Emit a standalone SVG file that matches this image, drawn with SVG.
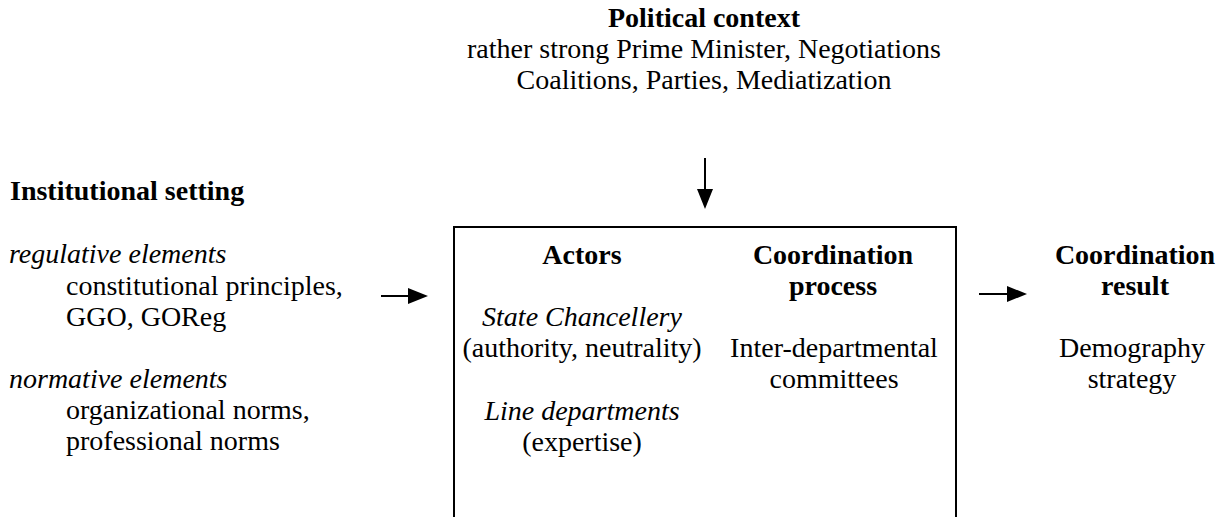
<svg xmlns="http://www.w3.org/2000/svg" width="1227" height="517" viewBox="0 0 1227 517">
  <style>
    text { font-family: "Liberation Serif", "Times New Roman", serif; font-size: 28px; fill: #000; }
    .b { font-weight: bold; }
    .i { font-style: italic; }
    .c { text-anchor: middle; }
    .conn line { stroke: #000; stroke-width: 2; }
  </style>
  <defs>
    <marker id="arrow" markerWidth="20" markerHeight="16" refX="10" refY="8" orient="auto" markerUnits="userSpaceOnUse" viewBox="0 0 20 16">
      <path d="M0,0 L20,8 L0,16 z" fill="#000"/>
    </marker>
  </defs>
  <rect width="1227" height="517" fill="#fff"/>

  <g id="political-context">
    <text class="b c" x="704" y="27">Political context</text>
    <text class="c" x="704" y="58">rather strong Prime Minister, Negotiations</text>
    <text class="c" x="704" y="89">Coalitions, Parties, Mediatization</text>
  </g>

  <g id="institutional-setting">
    <text class="b" x="10" y="200">Institutional setting</text>
    <text class="i" x="9" y="263">regulative elements</text>
    <text x="66" y="295">constitutional principles,</text>
    <text x="66" y="326">GGO, GOReg</text>
    <text class="i" x="9" y="388">normative elements</text>
    <text x="66" y="419">organizational norms,</text>
    <text x="66" y="450">professional norms</text>
  </g>

  <g id="coordination-box">
    <rect x="454" y="227" width="502" height="310" fill="none" stroke="#000" stroke-width="2"/>
    <text class="b c" x="582" y="264">Actors</text>
    <text class="i c" x="582" y="326">State Chancellery</text>
    <text class="c" x="582" y="357">(authority, neutrality)</text>
    <text class="i c" x="582" y="420">Line departments</text>
    <text class="c" x="582" y="451">(expertise)</text>
    <text class="b c" x="833" y="264">Coordination</text>
    <text class="b c" x="833" y="295">process</text>
    <text class="c" x="834" y="357">Inter-departmental</text>
    <text class="c" x="834" y="388">committees</text>
  </g>

  <g id="coordination-result">
    <text class="b c" x="1135" y="264">Coordination</text>
    <text class="b c" x="1135" y="295">result</text>
    <text class="c" x="1132" y="357">Demography</text>
    <text class="c" x="1132" y="388">strategy</text>
  </g>

  <g class="conn" id="connectors">
    <line x1="705" y1="158" x2="705" y2="199" marker-end="url(#arrow)"/>
    <line x1="381" y1="296" x2="418" y2="296" marker-end="url(#arrow)"/>
    <line x1="979" y1="294" x2="1017" y2="294" marker-end="url(#arrow)"/>
  </g>
</svg>
